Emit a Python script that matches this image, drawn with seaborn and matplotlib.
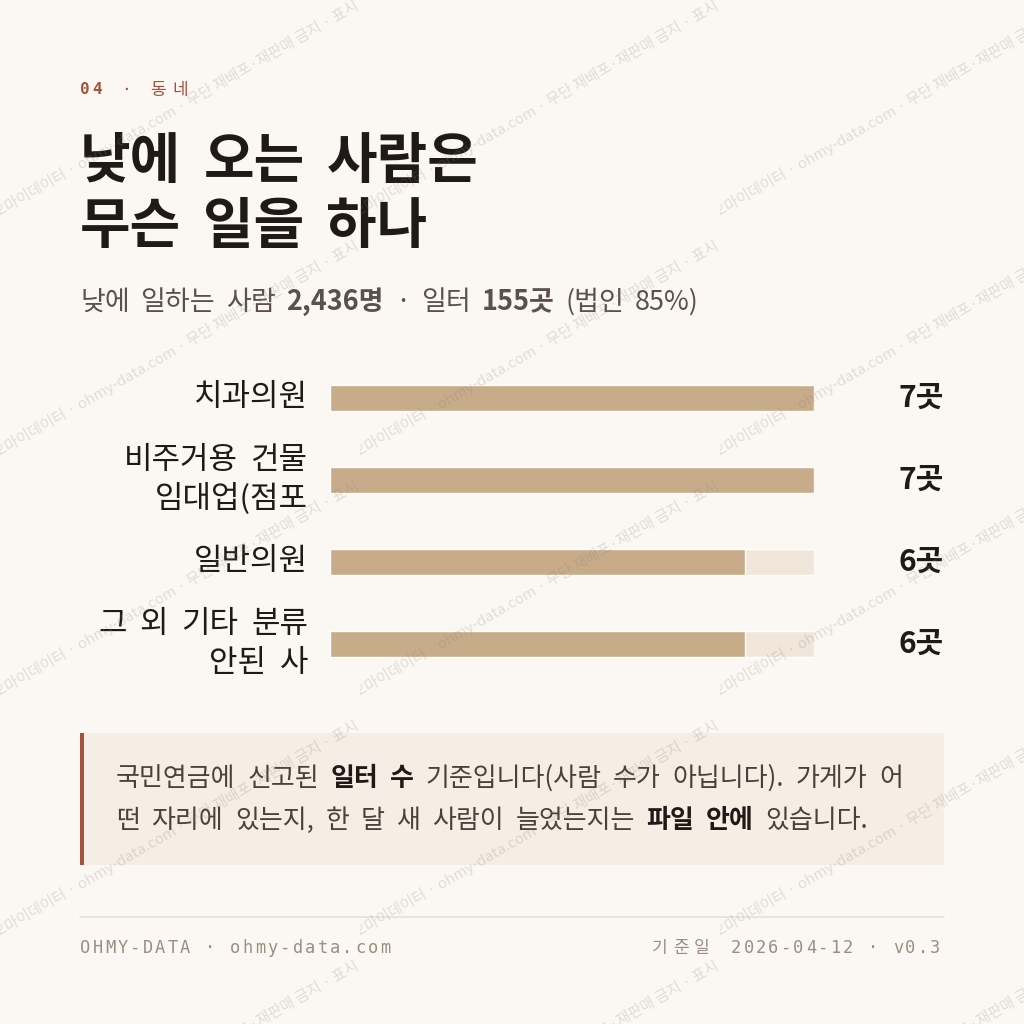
import matplotlib
matplotlib.use("Agg")
import matplotlib.pyplot as plt
import matplotlib.patches as mpatches
import seaborn as sns
import pandas as pd

# Data
categories = ["치과의원", "비주거용 건물\n임대업(점포", "일반의원", "그 외 기타 분류\n안된 사"]
counts = [7, 7, 6, 6]
count_labels = ["7곳", "7곳", "6곳", "6곳"]
max_count = 7

# Colors
BG = "#fbf8f3"
INK = "#1f1a17"
SUB = "#5a524a"
RUST = "#a5523a"
BAR = "#c8ac8a"
TRACK = "#f0e7da"
NOTE_BG = "#f6eee4"
NOTE_TXT = "#4a423a"
FOOT = "#9a8e80"
RULE = "#e9e1d6"

sns.set_theme(style="white")
plt.rcParams['font.family'] = ['Noto Sans CJK KR', 'DejaVu Sans']
MONO = ['DejaVu Sans Mono', 'Noto Sans CJK KR']

W = H = 1024
fig = plt.figure(figsize=(10.24, 10.24), dpi=100, facecolor=BG)
renderer = fig.canvas.get_renderer()


def fx(x):
    return x / W


def fy(y):
    return 1 - y / H


def pt(px):
    return px * 0.72


def text_width(s, **kw):
    a = fig.text(0, 0, "|" + s + "|", **kw)
    b = fig.text(0, 0, "||", **kw)
    w = a.get_window_extent(renderer).width - b.get_window_extent(renderer).width
    a.remove()
    b.remove()
    return w


def line(parts, x, y, size, color, bold_color=None, gap=0.4, align="left"):
    # draws a line of (text, bold) runs word by word with a wider word gap
    tokens = []
    for s, bold in parts:
        for k, w in enumerate(s.split(" ")):
            if k > 0:
                tokens.append(None)
            if w:
                tokens.append((w, bold))
    items = []
    total = 0
    for tok in tokens:
        if tok is None:
            total += gap * size
            items.append(None)
            continue
        kw = dict(fontsize=pt(size), fontweight="bold" if tok[1] else "normal")
        w = text_width(tok[0], **kw)
        items.append((tok[0], tok[1], kw, w))
        total += w
    if align == "right":
        x -= total
    for it in items:
        if it is None:
            x += gap * size
            continue
        s, bold, kw, w = it
        c = (bold_color or color) if bold else color
        fig.text(fx(x), fy(y), s, color=c, va="center", ha="left", **kw)
        x += w


def spaced(s, x, y, size, color, step_ascii, step_cjk, **kw):
    for ch in s:
        fig.text(fx(x), fy(y), ch, fontsize=pt(size), color=color, va="center",
                 ha="left", family=MONO, **kw)
        x += step_ascii if ord(ch) < 0x1100 else step_cjk


# Header
spaced("04", 80, 90, 16, RUST, 12, 22, fontweight="bold")
fig.text(fx(126), fy(90), "·", fontsize=pt(16), color=RUST, va="center", ha="center", family=MONO)
spaced("동네", 150, 90, 17, RUST, 12, 22)

# Title
line([("낮에 오는 사람은", True)], 80, 162, 55, INK, INK, gap=0.4)
line([("무슨 일을 하나", True)], 80, 227, 55, INK, INK, gap=0.4)

# Subtitle
line([("낮에 일하는 사람 ", False), ("2,436명", True), (" · 일터 ", False),
      ("155곳", True), (" (법인 85%)", False)], 80, 302, 27, SUB, gap=0.4)

# Bars
ax = fig.add_axes([fx(330), fy(685), 484 / W, 328 / H])
bar_w = 26 / 82
sns.barplot(x=[max_count] * len(categories), y=categories, color=TRACK, saturation=1,
            width=bar_w, errorbar=None, ax=ax)
df = pd.DataFrame({"category": categories, "count": counts})
sns.barplot(data=df, x="count", y="category", color=BAR, saturation=1,
            width=bar_w, errorbar=None, ax=ax)
ax.set_xlim(0, max_count)
ax.set_ylim(len(categories) - 0.5, -0.5)
ax.axis("off")

lab_size = 31
lab_lh = 39
for i, (cat, lab) in enumerate(zip(categories, count_labels)):
    _, yc = ax.transData.transform((0, i))
    yc = H - yc
    rows = cat.split("\n")
    for r, row in enumerate(rows):
        yr = yc + (r - (len(rows) - 1) / 2) * lab_lh
        line([(row, False)], 308, yr, lab_size, INK, gap=0.42, align="right")
    ax.annotate(lab, xy=(1, i), xycoords=("axes fraction", "data"), xytext=(130, 0),
                textcoords="offset pixels", ha="right", va="center",
                fontsize=pt(30), fontweight="bold", color=INK)

# Note box
fig.patches.append(mpatches.Rectangle((fx(80), fy(865)), 864 / W, 132 / H,
                                      transform=fig.transFigure, facecolor=NOTE_BG,
                                      edgecolor="none", zorder=0))
fig.patches.append(mpatches.Rectangle((fx(80), fy(865)), 4 / W, 132 / H,
                                      transform=fig.transFigure, facecolor=RUST,
                                      edgecolor="none", zorder=0))
line([("국민연금에 신고된 ", False), ("일터 수", True),
      (" 기준입니다(사람 수가 아닙니다). 가게가 어", False)], 116, 778, 26, NOTE_TXT, INK, gap=0.45)
line([("떤 자리에 있는지, 한 달 새 사람이 늘었는지는 ", False), ("파일 안에", True),
      (" 있습니다.", False)], 116, 820, 26, NOTE_TXT, INK, gap=0.45)

# Footer
fig.add_artist(plt.Line2D([fx(80), fx(944)], [fy(917), fy(917)], color=RULE, lw=1.2))
spaced("OHMY-DATA · ohmy-data.com", 80, 948, 17, FOOT, 12.5, 21)
spaced("기준일", 652, 948, 17, FOOT, 12.5, 21)
spaced("2026-04-12 · v0.3", 731, 948, 17, FOOT, 12.45, 21)

# Watermark
wm = "오마이데이터 · ohmy-data.com · 무단 재배포·재판매 금지 · 표시 없이 사용 금지"
for i in range(3):
    for j in range(5):
        t = fig.text(fx(-4 + 360 * i), fy(218 + 240 * j), wm, fontsize=pt(15),
                     color="#8a7f74", alpha=0.24, rotation=30, rotation_mode="anchor",
                     ha="left", va="baseline", zorder=10)
        clip = mpatches.Rectangle((fx(360 * i), fy(240 * j + 240)), 360 / W, 240 / H,
                                  transform=fig.transFigure)
        t.set_clip_path(clip)

fig.savefig("out.png", dpi=100, facecolor=BG)
